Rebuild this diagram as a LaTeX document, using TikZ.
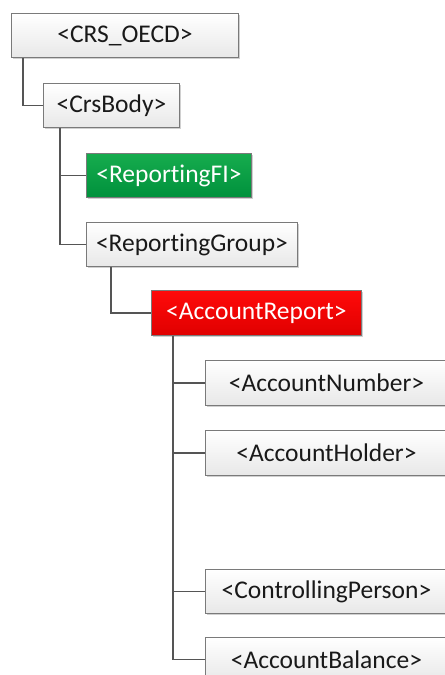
\documentclass[tikz,border=0pt]{standalone}
\usepackage{fontspec}
\setmainfont{Carlito}[Ligatures=NoCommon]
\usetikzlibrary{shadows}
\definecolor{boxline}{HTML}{7A7A7A}
\definecolor{conn}{HTML}{555555}
\definecolor{greentop}{HTML}{16AC4E}
\definecolor{greenbot}{HTML}{00913C}
\definecolor{redtop}{HTML}{FF0A0A}
\definecolor{redbot}{HTML}{E00000}
\tikzset{
  elem/.style={draw=boxline, line width=0.9bp, anchor=north west, inner sep=0pt,
    minimum height=44bp, top color=white, bottom color=black!9,
    font=\fontsize{25.5bp}{28bp}\selectfont, text=black!90,
    drop shadow={shadow xshift=1.5bp, shadow yshift=-1.5bp, opacity=0.3, fill=black!60}},
  greenelem/.style={elem, top color=greentop, bottom color=greenbot, text=white},
  redelem/.style={elem, top color=redtop, bottom color=redbot, text=white},
  link/.style={draw=conn, line width=1.2bp}
}
\begin{document}
\begin{tikzpicture}[x=1bp, y=-1bp]
\clip (0,0) rectangle (445,675);
\fill[white] (0,0) rectangle (445,675);
\node[elem, minimum width=227bp] (oecd) at (11,13) {<CRS\_OECD>};
\node[elem, minimum width=136bp] (body) at (43,83) {<CrsBody>};
\node[greenelem, minimum width=165bp] (fi) at (86,153) {<ReportingFI>};
\node[elem, minimum width=211bp] (group) at (86,222) {<ReportingGroup>};
\node[redelem, minimum width=210bp, minimum height=45bp] (report) at (151,290) {<AccountReport>};
\node[elem, minimum width=242bp, minimum height=45bp] (number) at (205,360) {<AccountNumber>};
\node[elem, minimum width=242bp, minimum height=45bp] (holder) at (205,430) {<AccountHolder>};
\node[elem, minimum width=242bp] (cperson) at (205,569) {<ControllingPerson>};
\node[elem, minimum width=242bp] (balance) at (205,637) {<AccountBalance>};
\draw[link] ([xshift=12bp]oecd.south west) |- (body.west);
\draw[link] ([xshift=17bp]body.south west) |- (fi.west);
\draw[link] ([xshift=17bp]body.south west) |- (group.west);
\draw[link] ([xshift=25bp]group.south west) |- (report.west);
\draw[link] ([xshift=22bp]report.south west) |- (number.west);
\draw[link] ([xshift=22bp]report.south west) |- (holder.west);
\draw[link] ([xshift=22bp]report.south west) |- (cperson.west);
\draw[link] ([xshift=22bp]report.south west) |- (balance.west);
\end{tikzpicture}
\end{document}
